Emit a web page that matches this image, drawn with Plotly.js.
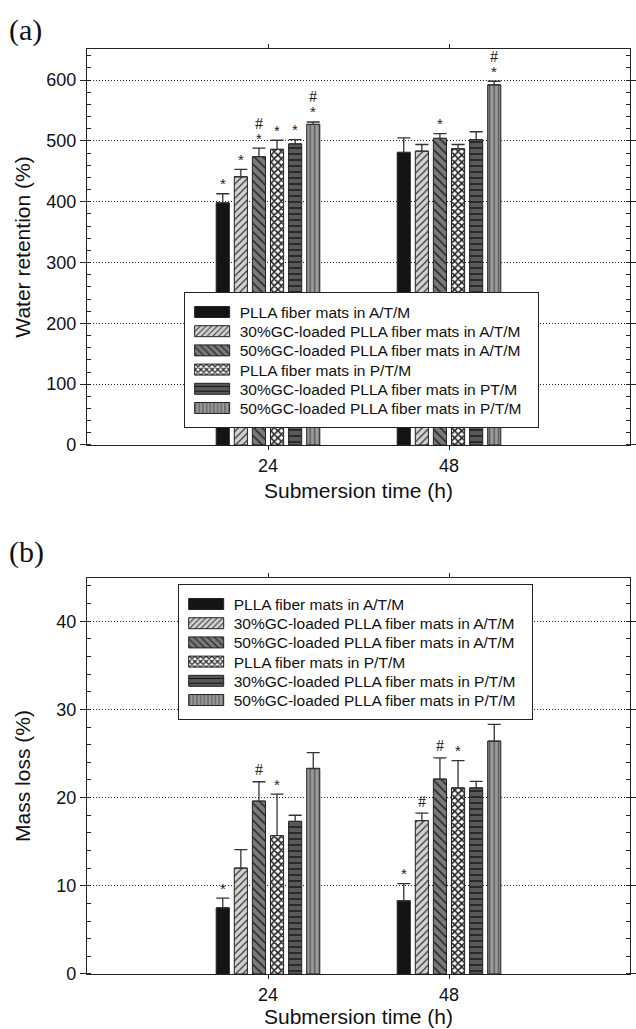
<!DOCTYPE html>
<html><head><meta charset="utf-8">
<script src="https://cdn.plot.ly/plotly-3.0.1.min.js"></script>
<style>html,body{margin:0;padding:0;overflow:hidden;background:#fff}#chart{width:640px;height:1029px}</style>
</head><body><div id="chart"></div>
<script>
// ---------- data ----------
const submersionTimes = ['24', '48'];
const seriesNamesA = [
  'PLLA fiber mats in A/T/M',
  '30%GC-loaded PLLA fiber mats in A/T/M',
  '50%GC-loaded PLLA fiber mats in A/T/M',
  'PLLA fiber mats in P/T/M',
  '30%GC-loaded PLLA fiber mats in PT/M',
  '50%GC-loaded PLLA fiber mats in P/T/M'
];
const seriesNamesB = [
  'PLLA fiber mats in A/T/M',
  '30%GC-loaded PLLA fiber mats in A/T/M',
  '50%GC-loaded PLLA fiber mats in A/T/M',
  'PLLA fiber mats in P/T/M',
  '30%GC-loaded PLLA fiber mats in P/T/M',
  '50%GC-loaded PLLA fiber mats in P/T/M'
];
// Water retention (%) [24 h, 48 h] per series
const retention    = [[398, 481], [441, 483], [474, 504], [486, 487], [495, 502], [527, 592]];
const retentionErr = [[15, 24], [12, 11], [14, 8], [15, 7], [7, 13], [4, 6]];
const retentionSig = [['*', ''], ['*', ''], ['#*', '*'], ['*', ''], ['*', ''], ['#*', '#*']];
// Mass loss (%) [24 h, 48 h] per series
const massLoss    = [[7.5, 8.3], [12.0, 17.4], [19.6, 22.1], [15.7, 21.1], [17.3, 21.1], [23.3, 26.4]];
const massLossErr = [[1.1, 1.95], [2.1, 0.85], [2.2, 2.4], [4.7, 3.1], [0.7, 0.75], [1.8, 1.9]];
const massLossSig = [['*', '*'], ['', '#'], ['#', '#'], ['*', '*'], ['', ''], ['', '']];

// ---------- styles ----------
const barStyles = [
  {color: '#141414', pattern: {shape: ''}},
  {color: '#d2d2d2', pattern: {shape: '/', fgcolor: '#333', bgcolor: '#d2d2d2', size: 5, solidity: 0.25}},
  {color: '#7a7a7a', pattern: {shape: '\\', fgcolor: '#222', bgcolor: '#7a7a7a', size: 6, solidity: 0.25}},
  {color: '#ffffff', pattern: {shape: 'x', fgcolor: '#222', bgcolor: '#ffffff', size: 5, solidity: 0.55}},
  {color: '#5a5a5a', pattern: {shape: '-', fgcolor: '#111', bgcolor: '#5a5a5a', size: 6, solidity: 0.22}},
  {color: '#9a9a9a', pattern: {shape: '|', fgcolor: '#555', bgcolor: '#9a9a9a', size: 4.6, solidity: 0.3}}
];
const BARGAP = 0.4, BARGROUPGAP = 0.275;
const sans = "'Liberation Sans', Arial, sans-serif";
const serif = "'Liberation Serif', 'Times New Roman', serif";

const traces = [];
const annotations = [];
function addPanel(names, vals, errs, sigs, xa, ya, legendId) {
  names.forEach((name, i) => {
    traces.push({
      type: 'bar', name: name, x: submersionTimes, y: vals[i],
      xaxis: xa, yaxis: ya, legend: legendId,
      marker: {color: barStyles[i].color, pattern: barStyles[i].pattern, line: {color: '#222', width: 1}},
      error_y: {type: 'data', array: errs[i], arrayminus: errs[i].map(() => 0), symmetric: false,
                color: '#333', thickness: 1.3, width: 6.5},
      hoverinfo: 'skip'
    });
    const pitch = (1 - BARGAP) / names.length;
    sigs[i].forEach((s, j) => {
      if (!s) return;
      const xpos = j + (i - (names.length - 1) / 2) * pitch;
      const top = vals[i][j] + errs[i][j];
      const hasStar = s.includes('*'), hasHash = s.includes('#');
      if (hasStar) annotations.push({xref: xa, yref: ya, x: xpos, y: top, text: '*', showarrow: false,
        yanchor: 'middle', yshift: 10, font: {family: sans, size: 15, color: '#222'}});
      if (hasHash) annotations.push({xref: xa, yref: ya, x: xpos, y: top, text: '#', showarrow: false,
        yanchor: 'middle', yshift: hasStar ? 25 : 12, font: {family: serif, size: 16, color: '#222'}});
    });
  });
}
addPanel(seriesNamesA, retention, retentionErr, retentionSig, 'x', 'y', 'legend');
addPanel(seriesNamesB, massLoss, massLossErr, massLossSig, 'x2', 'y2', 'legend2');

annotations.push({xref: 'paper', yref: 'paper', x: -0.148, y: 1.0205, xanchor: 'left', yanchor: 'middle',
  text: '(a)', showarrow: false, font: {family: serif, size: 30, color: '#111'}});
annotations.push({xref: 'paper', yref: 'paper', x: -0.148, y: 0.456, xanchor: 'left', yanchor: 'middle',
  text: '(b)', showarrow: false, font: {family: serif, size: 30, color: '#111'}});

function xAxis(anchor, standoff) {
  return {
    anchor: anchor, type: 'category', range: [-1, 2], showgrid: false, zeroline: false,
    showline: true, linecolor: '#222', linewidth: 1.2, mirror: 'ticks',
    ticks: 'outside', ticklen: 4, tickcolor: '#222', tickwidth: 1,
    tickfont: {family: sans, size: 18, color: '#111'},
    title: {text: 'Submersion time (h)', font: {family: sans, size: 21, color: '#111'}, standoff: standoff},
    automargin: true, fixedrange: true
  };
}
function yAxis(domain, range, dtick, minorDtick, title, standoff) {
  return {
    domain: domain, range: range, dtick: dtick, tick0: 0, zeroline: false,
    showline: true, linecolor: '#222', linewidth: 1.2, mirror: 'ticks',
    ticks: 'outside', ticklen: 6, tickcolor: '#222', tickwidth: 1,
    minor: {dtick: minorDtick, tick0: 0, ticks: 'inside', ticklen: 4, tickcolor: '#222', showgrid: false},
    showgrid: true, gridcolor: '#222', gridwidth: 1, griddash: '1px,2px',
    tickfont: {family: sans, size: 18, color: '#111'},
    title: {text: title, font: {family: sans, size: 21, color: '#111'}, standoff: standoff},
    automargin: true, fixedrange: true
  };
}
function legendBox(x, y) {
  return {x: x, y: y, xref: 'paper', yref: 'paper', xanchor: 'left', yanchor: 'top',
    bgcolor: '#fff', bordercolor: '#222', borderwidth: 1, itemwidth: 45, tracegroupgap: 0,
    font: {family: sans, size: 15.5, color: '#111'}, traceorder: 'normal'};
}

const layout = {
  width: 640, height: 1029,
  margin: {l: 87, r: 3, t: 49, b: 55},
  paper_bgcolor: '#fff', plot_bgcolor: '#fff',
  barmode: 'group', bargap: BARGAP, bargroupgap: BARGROUPGAP,
  showlegend: true,
  xaxis: xAxis('y', 8),
  xaxis2: xAxis('y2', 4),
  yaxis: yAxis([0.5719, 1], [0, 651], 100, 20, 'Water retention (%)', 9),
  yaxis2: yAxis([0, 0.4281], [0, 44.9], 10, 2, 'Mass loss (%)', 19),
  legend: legendBox(0.178, 0.7373),
  legend2: legendBox(0.167, 0.4216),
  annotations: annotations
};

// legend entries: wide swatches and compact rows as in the printed figure
function tidyLegends() {
  document.querySelectorAll('g.legendpoints path').forEach(p => p.setAttribute('d', 'M17.5,5.5H-17.5V-5.5H17.5Z'));
  document.querySelectorAll('g.infolayer > g').forEach(lg => {
    const cls = lg.getAttribute('class') || '';
    if (!/^legend\d*$/.test(cls)) return;
    const items = lg.querySelectorAll('g.traces');
    items.forEach((g, i) => {
      const m = /translate\(\s*([-\d.]+)[\s,]+([-\d.]+)\s*\)/.exec(g.getAttribute('transform') || '');
      const x = m ? parseFloat(m[1]) : 1;
      g.setAttribute('transform', 'translate(' + x + ',' + (20 + i * 19.2) + ')');
    });
    const bg = lg.querySelector('rect.bg');
    if (bg) { bg.setAttribute('height', 135); bg.setAttribute('width', 354); }
  });
}
const gd = document.getElementById('chart');
Plotly.newPlot(gd, traces, layout, {staticPlot: true, displayModeBar: false}).then(() => {
  tidyLegends();
  gd.on('plotly_afterplot', tidyLegends);
});
</script>
</body></html>
